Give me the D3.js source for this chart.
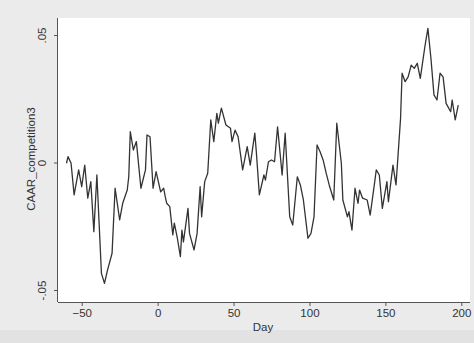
<!DOCTYPE html>
<html>
<head>
<meta charset="utf-8">
<script src="https://cdn.jsdelivr.net/npm/d3@7"></script>
<style>
  html, body { margin: 0; padding: 0; background: #ebebeb; }
  svg { display: block; }
</style>
</head>
<body>
<div id="chart"></div>
<script>
// CAAR by event day
const days = [-60, -59, -57, -55, -52, -50, -48, -46, -44, -42, -40, -37, -35, -33, -30, -28, -25, -23, -20, -19,
  -18, -16, -14, -11, -8, -7, -5, -3, -1, 2, 4, 5, 6, 8, 10, 11, 13, 15, 16, 17,
  20, 21, 24, 26, 28, 29, 31, 33, 35, 37, 39, 40, 42, 45, 48, 49, 51, 53, 56, 59,
  61, 64, 65, 67, 70, 71, 73, 75, 77, 79, 82, 84, 87, 89, 92, 94, 96, 99, 101, 103,
  105, 107, 109, 111, 113, 116, 118, 121, 122, 125, 126, 128, 130, 132, 133, 135, 138, 140, 143, 144,
  146, 148, 151, 152, 155, 157, 160, 161, 163, 165, 167, 169, 171, 173, 176, 178, 180, 182, 184, 186,
  188, 190, 193, 194, 196, 198];
const caar = [-0.0003, 0.0023, -0.0003, -0.0127, -0.0029, -0.0095, -0.0010, -0.0140, -0.0075, -0.0271, -0.0049, -0.0435, -0.0474, -0.0422, -0.0356, -0.0101, -0.0225, -0.0160, -0.0108, -0.0056,
  0.0121, 0.0049, 0.0082, -0.0101, -0.0029, 0.0108, 0.0101, -0.0101, -0.0036, -0.0115, -0.0101, -0.0134, -0.0160, -0.0173, -0.0284, -0.0238, -0.0297, -0.0369, -0.0265, -0.0311,
  -0.0180, -0.0278, -0.0343, -0.0278, -0.0095, -0.0213, -0.0075, -0.0042, 0.0167, 0.0082, 0.0193, 0.0154, 0.0213, 0.0147, 0.0134, 0.0082, 0.0127, 0.0101, -0.0029, 0.0062,
  -0.0010, 0.0115, 0.0042, -0.0127, -0.0049, -0.0069, 0.0003, 0.0010, 0.0003, 0.0140, -0.0049, 0.0115, -0.0213, -0.0245, -0.0056, -0.0088, -0.0147, -0.0297, -0.0278, -0.0213,
  0.0069, 0.0042, 0.0010, -0.0042, -0.0088, -0.0147, 0.0154, -0.0003, -0.0147, -0.0213, -0.0193, -0.0265, -0.0101, -0.0160, -0.0108, -0.0140, -0.0147, -0.0206, -0.0075, -0.0029,
  -0.0049, -0.0180, -0.0075, -0.0154, -0.0010, -0.0088, 0.0173, 0.0350, 0.0317, 0.0336, 0.0382, 0.0369, 0.0389, 0.0330, 0.0454, 0.0526, 0.0409, 0.0265, 0.0245, 0.0350,
  0.0336, 0.0232, 0.0199, 0.0245, 0.0167, 0.0225];

const xTicks = [-50, 0, 50, 100, 150, 200];
const yTicks = [-0.05, 0, 0.05];
const yTickLabels = ["-.05", "0", ".05"];
const xLabel = "Day";
const yLabel = "CAAR_competition3";

const config = {
  width: 474,
  height: 343,
  plot: {left: 58, right: 470, top: 18, bottom: 302},
  xRange: [81.7, 461.3],
  yRange: [290, 35],
  tickSize: 4,
  font: "'Liberation Sans', Arial, sans-serif"
};

const svg = d3.select("#chart")
  .append("svg")
  .attr("width", config.width)
  .attr("height", config.height)
  .attr("viewBox", [0, 0, config.width, config.height]);

// outer frame and plot region
svg.append("rect")
  .attr("width", config.width)
  .attr("height", config.height)
  .attr("fill", "#ebebeb");
svg.append("rect")
  .attr("x", 0)
  .attr("y", 330)
  .attr("width", config.width)
  .attr("height", config.height - 330)
  .attr("fill", "#e2e2e2");
svg.append("rect")
  .attr("x", config.plot.left)
  .attr("y", config.plot.top)
  .attr("width", config.plot.right - config.plot.left)
  .attr("height", config.plot.bottom - config.plot.top)
  .attr("fill", "#ffffff");

const xScale = d3.scaleLinear([-50, 200], config.xRange);
const yScale = d3.scaleLinear([-0.05, 0.05], config.yRange);

const xAxis = d3.axisBottom(xScale).tickValues(xTicks).tickSize(config.tickSize).tickPadding(3);
const yAxis = d3.axisLeft(yScale).tickValues(yTicks).tickSize(config.tickSize).tickPadding(4)
  .tickFormat((d, i) => yTickLabels[i]);

svg.append("g")
  .attr("transform", `translate(0,${config.plot.bottom})`)
  .call(xAxis)
  .call(g => g.select(".domain")
    .attr("d", `M${config.plot.left},0.5H${config.plot.right}`))
  .call(g => g.selectAll("line, path").attr("stroke", "#555"))
  .call(g => g.selectAll("text")
    .attr("font-family", config.font)
    .attr("font-size", 11.5)
    .attr("fill", "#333"));

svg.append("g")
  .attr("transform", `translate(${config.plot.left},0)`)
  .call(yAxis)
  .call(g => g.select(".domain")
    .attr("d", `M-0.5,${config.plot.top}V${config.plot.bottom}`))
  .call(g => g.selectAll("line, path").attr("stroke", "#555"))
  .call(g => g.selectAll("text")
    .attr("font-family", config.font)
    .attr("font-size", 11.5)
    .attr("fill", "#333")
    .attr("text-anchor", "middle")
    .attr("dy", 0)
    .attr("x", 0)
    .attr("y", 0)
    .attr("transform", "translate(-12,0) rotate(-90)"));

svg.append("text")
  .attr("x", 263)
  .attr("y", 331)
  .attr("text-anchor", "middle")
  .attr("font-family", config.font)
  .attr("font-size", 11.5)
  .attr("fill", "#333")
  .text(xLabel);

svg.append("text")
  .attr("transform", `translate(35,159) rotate(-90)`)
  .attr("text-anchor", "middle")
  .attr("font-family", config.font)
  .attr("font-size", 11.5)
  .attr("fill", "#333")
  .text(yLabel);

const I = d3.range(days.length);
const line = d3.line()
  .x(i => xScale(days[i]))
  .y(i => yScale(caar[i]));

svg.append("path")
  .datum(I)
  .attr("fill", "none")
  .attr("stroke", "#333")
  .attr("stroke-width", 1.3)
  .attr("stroke-linejoin", "round")
  .attr("d", line);
</script>
</body>
</html>
